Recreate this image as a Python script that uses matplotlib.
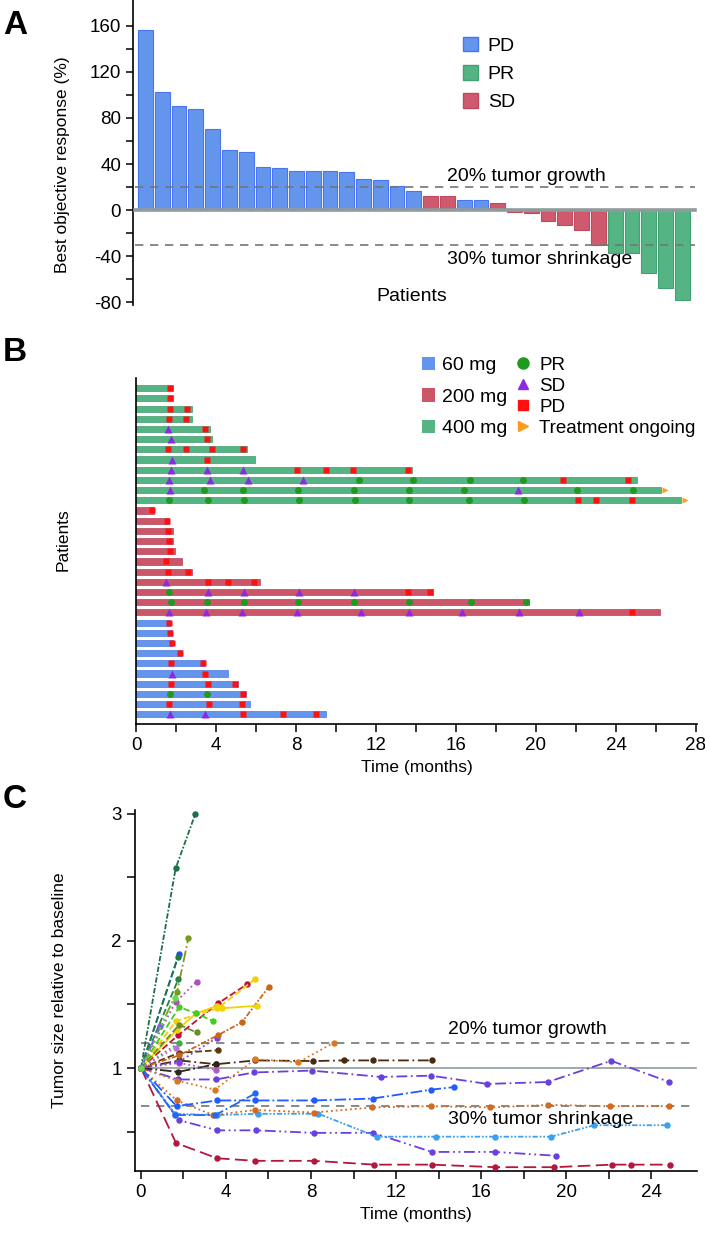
import matplotlib
matplotlib.use('Agg')
import matplotlib.pyplot as plt
from matplotlib.patches import Patch
from matplotlib.lines import Line2D
import numpy as np

plt.rcParams['font.family'] = ['Liberation Sans', 'DejaVu Sans']
plt.rcParams['axes.unicode_minus'] = False

# ---------------- Panel A data: best objective response (%) ----------------
response = [156.5, 102.6, 90.2, 87.5, 70.7, 52.2, 50.4, 37.7, 36.8, 34.2, 33.9,
            33.6, 33.0, 27.2, 25.8, 20.9, 16.5, 12.5, 12.2, 8.7, 8.5, 6.4, -1.5,
            -3.0, -9.9, -12.8, -17.1, -30.1, -37.0, -37.8, -54.5, -67.8, -78.0]
response_cat = (['PD'] * 17 + ['SD', 'SD', 'PD', 'PD', 'SD'] + ['SD'] * 6
                + ['PR'] * 5)
growth_cut = 20
shrink_cut = -30

# ---------------- Panel B data: swimmer plot (rows listed top to bottom) ----
swim_dose = ['400 mg'] * 12 + ['200 mg'] * 11 + ['60 mg'] * 10
swim_end = [1.85, 1.85, 2.78, 2.8, 3.68, 3.82, 5.57, 5.93, 13.8, 25.03, 26.23, 27.25,
            0.9, 1.67, 1.83, 1.83, 1.93, 2.32, 2.78, 6.18, 14.83, 19.63, 26.18,
            1.7, 1.8, 1.85, 2.32, 3.45, 4.62, 5.1, 5.52, 5.68, 9.48]
swim_pr = [[], [], [], [], [], [], [], [], [],
           [11.17, 13.86, 16.72, 19.37],
           [3.42, 5.35, 8.12, 10.88, 13.63, 16.4, 22.05, 24.83],
           [1.65, 3.58, 5.4, 8.17, 10.95, 13.67, 16.65, 19.42],
           [], [], [], [], [], [], [], [],
           [1.63],
           [1.77, 3.55, 5.38, 8.12, 10.92, 13.63, 16.75, 19.52],
           [],
           [], [], [], [], [], [], [], [1.68, 3.55], [], []]
swim_sd = [[], [], [], [], [1.58], [1.75], [], [1.78],
           [1.73, 3.55, 5.37],
           [1.65, 3.68, 5.58, 8.35],
           [1.68, 19.12],
           [],
           [], [], [], [], [], [], [],
           [1.52],
           [3.58, 5.38, 8.15, 10.92],
           [],
           [1.67, 3.48, 5.32, 8.05, 11.27, 13.63, 16.32, 19.15, 22.15],
           [], [], [], [], [], [1.78], [], [], [], [1.68, 3.45]]
swim_pd = [[1.72], [1.7], [1.7, 2.55], [1.63, 2.52], [3.47], [3.53],
           [1.6, 2.52, 3.8, 5.35], [3.57],
           [8.07, 9.52, 10.87, 13.62],
           [21.33, 24.58],
           [],
           [22.12, 22.98, 24.82],
           [0.8], [1.57], [1.62], [1.67], [1.7], [1.48], [1.6, 2.58],
           [3.58, 4.62, 5.92],
           [13.62, 14.7],
           [],
           [24.82],
           [1.65], [1.72], [1.78], [2.18], [1.77, 3.37], [3.47],
           [1.77, 3.6, 4.97], [5.35], [1.63, 3.63, 5.3], [5.37, 7.37, 9.02]]
swim_ongoing = [False] * 10 + [True, True] + [False] * 21

# ---------------- Panel C data: tumor size relative to baseline -------------
c_times = [
    [0, 1.65, 3.59, 5.38, 8.16, 10.98, 13.68, 16.66, 19.44, 22.18, 23.04, 24.88],
    [0, 1.79, 3.59, 5.41, 8.16, 10.93, 13.68, 16.66, 19.53],
    [0, 1.6, 3.6, 5.5, 8.35, 11.09, 13.86, 16.66, 19.29, 21.33, 24.74],
    [0, 1.68, 3.4, 5.38, 8.16, 10.88, 13.65, 16.42, 19.17, 22.07, 24.86],
    [0, 1.68, 3.59, 5.38, 8.16, 10.9, 13.65, 14.73],
    [0, 1.6, 3.5, 5.38],
    [0, 1.76, 3.53, 5.3, 8.03, 11.29, 13.65, 16.3, 19.14, 22.12, 24.86],
    [0, 1.8, 3.53, 5.38, 8.1, 9.56, 10.93, 13.68],
    [0, 1.7, 3.48, 5.38, 7.4, 9.08],
    [0, 1.76, 3.53],
    [0, 1.8, 3.64],
    [0, 1.8, 3.53],
    [0, 1.8, 3.59],
    [0, 1.8, 3.64, 4.75, 6.02],
    [0, 1.76, 3.64, 5.0],
    [0, 1.65, 3.6, 5.38],
    [0, 1.7, 2.6, 3.6, 3.8, 5.46],
    [0, 1.8, 2.59, 3.4],
    [0, 1.8, 2.62],
    [0, 1.8],
    [0, 1.63, 2.62],
    [0, 1.63, 2.56],
    [0, 1.7, 2.23],
    [0, 1.8],
    [0, 1.73],
    [0, 1.76],
    [0, 1.63],
    [0, 0.9],
    [0, 1.6],
]
c_values = [
    [1, 0.41, 0.29, 0.27, 0.27, 0.24, 0.24, 0.22, 0.22, 0.24, 0.24, 0.24],
    [1, 0.59, 0.51, 0.51, 0.49, 0.49, 0.34, 0.34, 0.31],
    [1, 0.64, 0.63, 0.64, 0.64, 0.46, 0.46, 0.46, 0.46, 0.55, 0.55],
    [1, 0.745, 0.63, 0.67, 0.65, 0.69, 0.70, 0.69, 0.71, 0.70, 0.70],
    [1, 0.70, 0.745, 0.745, 0.745, 0.76, 0.83, 0.85],
    [1, 0.63, 0.63, 0.80],
    [1, 0.91, 0.91, 0.965, 0.98, 0.93, 0.94, 0.875, 0.89, 1.057, 0.89],
    [1, 1.06, 1.03, 1.06, 1.055, 1.06, 1.06, 1.06],
    [1, 0.9, 0.83, 1.07, 1.045, 1.2],
    [1, 0.97, 1.03],
    [1, 1.12, 1.14],
    [1, 1.04, 0.985],
    [1, 1.05, 1.24],
    [1, 1.1, 1.26, 1.36, 1.64],
    [1, 1.26, 1.51, 1.66],
    [1, 1.37, 1.47, 1.70],
    [1, 1.3, 1.43, 1.49, 1.47, 1.49],
    [1, 1.48, 1.43, 1.37],
    [1, 1.34, 1.28],
    [1, 1.2],
    [1, 1.52, 1.68],
    [1, 2.57, 3.0],
    [1, 1.6, 2.02],
    [1, 1.90],
    [1, 1.87],
    [1, 1.70],
    [1, 1.16],
    [1, 1.33],
    [1, 1.55],
]
c_colors = ['#B4163C', '#6A3FE0', '#3AA0F0', '#D2691E', '#1F5BFF', '#2468F0',
            '#6A3FE0', '#4A2A0C', '#D97A1E', '#2E2418', '#5A3A10', '#B45AC8',
            '#7B3FE4', '#C8661C', '#C0103A', '#F0D000', '#F2D400', '#44CC22',
            '#6B8E23', '#3CB043', '#B050C0', '#1E7048', '#7A9A1E', '#2050F0',
            '#1E7A40', '#2A8040', '#C070D0', '#8060E0', '#66DD44']
c_styles = [(0, (7, 3)), (0, (6, 2, 1, 2, 1, 2)), (0, (3, 1, 1, 1, 1, 1)), ':',
            '-.', '-.', (0, (6, 2, 1, 2)), (0, (6, 2, 1, 2)), ':', '-.',
            '--', ':', ':', (0, (3, 1, 1, 1)), '--', '--', '-', '--', '--',
            ':', ':', (0, (3, 1, 1, 1)), '-.', '--', '--', '--', ':', '-.', ':']

W, H = 705, 1239
TICK_FS = 13.5
TEXT_FS = 14
LABEL_FS = 12.5


def px_axes(left, top, right, bottom):
    return [left / W, 1 - bottom / H, (right - left) / W, (bottom - top) / H]


fig = plt.figure(figsize=(W / 100, H / 100), dpi=100)

dose_colors = {'60 mg': '#6495ED', '200 mg': '#CB5668', '400 mg': '#55B484'}
dose_edges = {'60 mg': '#4A78E8', '200 mg': '#B8405A', '400 mg': '#3E9A6C'}
cat_colors = {'PD': '#6495ED', 'PR': '#55B484', 'SD': '#CF5A6E'}
cat_edges = {'PD': '#4A74EE', 'PR': '#43A073', 'SD': '#BF4A60'}

# ============================ Panel A ============================
axA = fig.add_axes(px_axes(133, 0, 697, 305))
xa = np.arange(len(response))
axA.bar(xa, response, width=0.88,
        color=[cat_colors[c] for c in response_cat],
        edgecolor=[cat_edges[c] for c in response_cat], linewidth=0.8, zorder=2)
axA.plot([-0.6, 32.75], [0, 0], color='#8F9B9C', lw=2.6, zorder=3)
axA.plot([-0.6, 32.75], [growth_cut] * 2, color='#6F7878', lw=1.2,
         ls=(0, (5, 4)), zorder=3)
axA.plot([-0.6, 32.75], [shrink_cut] * 2, color='#6F7878', lw=1.2,
         ls=(0, (5, 4)), zorder=3)
axA.set_xlim(-0.745, 32.88)
axA.set_ylim(-82.6, 182.6)
axA.set_yticks(np.arange(-80, 161, 40))
axA.set_yticks(np.arange(-80, 161, 20), minor=True)
axA.set_xticks([])
for s in ['top', 'right', 'bottom']:
    axA.spines[s].set_visible(False)
axA.spines['left'].set_linewidth(1.2)
axA.tick_params(axis='y', which='both', direction='out', length=5, width=1.1,
                labelsize=TICK_FS)
axA.text(15.9, -75.4, 'Patients', ha='center', va='center', fontsize=TEXT_FS)
axA.text(18.0, 29.5, '20% tumor growth', ha='left', va='center', fontsize=TEXT_FS)
axA.text(18.0, -43.3, '30% tumor shrinkage', ha='left', va='center', fontsize=TEXT_FS)
axA.legend(handles=[Patch(facecolor=cat_colors[k], edgecolor=cat_edges[k],
                          label=k) for k in ['PD', 'PR', 'SD']],
           loc='upper left', bbox_to_anchor=(445 / W, 1 - 19 / H),
           bbox_transform=fig.transFigure, frameon=False, fontsize=TEXT_FS,
           handlelength=0.8, handleheight=0.8, handletextpad=0.5,
           labelspacing=0.52)
fig.text(63 / W, 1 - 165 / H, 'Best objective response (%)', rotation=90,
         ha='center', va='center', fontsize=LABEL_FS)

# ============================ Panel B ============================
axB = fig.add_axes(px_axes(136, 378, 697, 724))
n = len(swim_end)
for i in range(n):
    y = n - 1 - i
    d = swim_dose[i]
    axB.barh(y, swim_end[i], height=0.6, left=0, color=dose_colors[d],
             edgecolor=dose_edges[d], linewidth=0.5, zorder=2)
    if swim_pr[i]:
        axB.plot(swim_pr[i], [y] * len(swim_pr[i]), 'o', color='#1E9A1E',
                 ms=5, mec='none', zorder=4)
    if swim_sd[i]:
        axB.plot(swim_sd[i], [y] * len(swim_sd[i]), '^', color='#8A2BE2',
                 ms=5.5, mec='none', zorder=4)
    if swim_pd[i]:
        axB.plot(swim_pd[i], [y] * len(swim_pd[i]), 's', color='#FF1010',
                 ms=4.6, mec='none', zorder=4)
    if swim_ongoing[i]:
        axB.plot([swim_end[i] + 0.2], [y], '>', color='#FF9A1E', ms=5,
                 mec='none', zorder=4)
axB.set_xlim(0, 28.05)
axB.set_ylim(-0.95, 33.0)
axB.set_yticks([])
axB.set_xticks(np.arange(0, 29, 4))
axB.set_xticks(np.arange(0, 29, 2), minor=True)
for s in ['top', 'right']:
    axB.spines[s].set_visible(False)
for s in ['left', 'bottom']:
    axB.spines[s].set_linewidth(1.2)
axB.tick_params(axis='x', which='both', direction='out', length=6, width=1.1,
                labelsize=TICK_FS)
axB.set_xlabel('Time (months)', fontsize=LABEL_FS, labelpad=4)
fig.text(63 / W, 1 - 540 / H, 'Patients', rotation=90, ha='center',
         va='center', fontsize=LABEL_FS)
legB1 = axB.legend(handles=[Patch(facecolor=dose_colors[k], edgecolor='none',
                                  label=k) for k in ['60 mg', '200 mg', '400 mg']],
                   loc='upper left', bbox_to_anchor=(404 / W, 1 - 339 / H),
                   bbox_transform=fig.transFigure, frameon=False, fontsize=TEXT_FS,
                   handlelength=0.7, handleheight=0.7, handletextpad=0.35,
                   labelspacing=0.72)
axB.add_artist(legB1)
axB.legend(handles=[
    Line2D([], [], marker='o', ls='none', color='#1E9A1E', ms=8, label='PR'),
    Line2D([], [], marker='^', ls='none', color='#8A2BE2', ms=7, label='SD'),
    Line2D([], [], marker='s', ls='none', color='#FF1010', ms=7, label='PD'),
    Line2D([], [], marker='>', ls='none', color='#FF9A1E', ms=7,
           label='Treatment ongoing')],
    loc='upper left', bbox_to_anchor=(497 / W, 1 - 340 / H),
    bbox_transform=fig.transFigure, frameon=False, fontsize=13.5,
    handlelength=1.0, handletextpad=0.35, labelspacing=0.2)

# ============================ Panel C ============================
axC = fig.add_axes(px_axes(135, 810, 697, 1171))
axC.plot([0, 26.1], [1, 1], color='#8F9B9C', lw=1.2, zorder=1)
axC.plot([0, 26.1], [1.2, 1.2], color='#6F7878', lw=1.2, ls=(0, (5, 4)), zorder=1)
axC.plot([0, 26.1], [0.7, 0.7], color='#6F7878', lw=1.2, ls=(0, (5, 4)), zorder=1)
for t, v, c, s in zip(c_times, c_values, c_colors, c_styles):
    axC.plot(t, v, color=c, ls=s, lw=1.3, marker='o', ms=3.6, zorder=3)
axC.set_xlim(-0.28, 26.16)
axC.set_ylim(0.19, 3.03)
axC.set_xticks(np.arange(0, 25, 4))
axC.set_xticks(np.arange(0, 26, 2), minor=True)
axC.set_yticks([1, 2, 3])
axC.set_yticks([0.5, 1, 1.5, 2, 2.5, 3], minor=True)
for s in ['top', 'right']:
    axC.spines[s].set_visible(False)
for s in ['left', 'bottom']:
    axC.spines[s].set_linewidth(1.2)
axC.tick_params(axis='both', which='both', direction='out', length=6, width=1.1,
                labelsize=TICK_FS)
axC.set_xlabel('Time (months)', fontsize=LABEL_FS, labelpad=4)
axC.text(14.45, 1.30, '20% tumor growth', ha='left', va='center', fontsize=TEXT_FS)
axC.text(14.45, 0.593, '30% tumor shrinkage', ha='left', va='center', fontsize=TEXT_FS)
fig.text(60 / W, 1 - 990 / H, 'Tumor size relative to baseline', rotation=90,
         ha='center', va='center', fontsize=LABEL_FS)

# panel letters
for lab, ypx in [('A', 25), ('B', 352), ('C', 799)]:
    fig.text(15 / W, 1 - ypx / H, lab, ha='center', va='center', fontsize=24,
             fontweight='bold')

fig.savefig('out.png', dpi=100)
